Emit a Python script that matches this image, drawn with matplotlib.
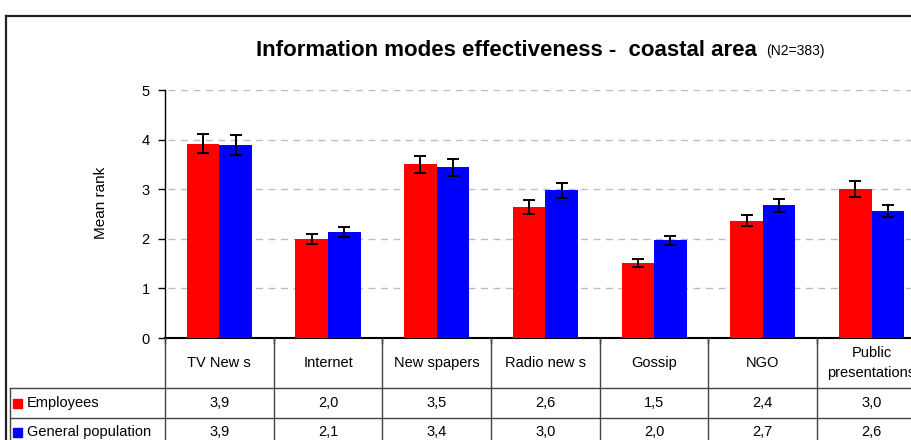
import matplotlib
matplotlib.use("Agg")
import matplotlib.pyplot as plt
from matplotlib.lines import Line2D
from matplotlib.patches import Rectangle

categories = ["TV New s", "Internet", "New spapers", "Radio new s", "Gossip", "NGO", "Public\npresentations"]
series_names = ["Employees", "General population"]
employees = [3.92, 2.00, 3.50, 2.64, 1.51, 2.36, 3.01]
employees_err = [0.20, 0.10, 0.17, 0.14, 0.08, 0.11, 0.16]
general = [3.89, 2.14, 3.44, 2.98, 1.97, 2.68, 2.56]
general_err = [0.20, 0.10, 0.17, 0.15, 0.09, 0.13, 0.13]
yticks = [0, 1, 2, 3, 4, 5]
colors = ["#ff0000", "#0000ff"]

FONT = ["Liberation Sans", "DejaVu Sans"]
plt.rcParams['font.family'] = FONT

W, H = 912, 440
fig = plt.figure(figsize=(W / 100, H / 100), dpi=100)

def fx(x):
    return x / W

def fy(y):
    return 1 - y / H

x0, x_axis_bottom, y_top = 165, 338, 90
cat_w = 108.7
n = len(categories)
ax = fig.add_axes([fx(x0), fy(x_axis_bottom), n * cat_w / W, (x_axis_bottom - y_top) / H])
ax.set_xlim(0, n)
ax.set_ylim(0, 5)

centers = [i + 0.5 for i in range(n)]
bw = 0.3
ax.bar([c - bw / 2 for c in centers], employees, width=bw, color=colors[0], zorder=3)
ax.bar([c + bw / 2 for c in centers], general, width=bw, color=colors[1], zorder=3)
ax.errorbar([c - bw / 2 for c in centers], employees, yerr=employees_err, fmt='none',
            ecolor='black', elinewidth=1.4, capsize=4.3, capthick=1.4, zorder=4)
ax.errorbar([c + bw / 2 for c in centers], general, yerr=general_err, fmt='none',
            ecolor='black', elinewidth=1.4, capsize=4.3, capthick=1.4, zorder=4)

for s in ['top', 'right']:
    ax.spines[s].set_visible(False)
ax.spines['left'].set_linewidth(1.0)
ax.spines['bottom'].set_linewidth(1.5)
ax.set_yticks(yticks)
ax.set_yticklabels([str(t) for t in yticks], fontsize=10.5)
ax.tick_params(axis='y', direction='out', length=5, width=1, pad=6)
ax.set_xticks(range(n + 1))
ax.set_xticklabels([])
ax.tick_params(axis='x', direction='out', length=4, width=1)
for t in yticks[1:]:
    ax.plot([0.03, n], [t, t], color='#bdbdbd', lw=1, dashes=(5, 4), zorder=1)

# title
fig.text(fx(757), fy(56), "Information modes effectiveness -  coastal area", ha='right',
         va='baseline', fontsize=16, fontweight='bold')
fig.text(fx(766), fy(55), "(N2=383)", ha='left', va='baseline', fontsize=10)

# y label
fig.text(fx(101), fy(203), "Mean rank", rotation=90, ha='center', va='center', fontsize=11)

# outer border
lc = '#222222'
fig.add_artist(Line2D([fx(6), fx(W + 5)], [fy(16), fy(16)], color=lc, lw=1.6))
fig.add_artist(Line2D([fx(6), fx(6)], [fy(16), fy(H + 5)], color=lc, lw=1.6))

# data table lines
tc = '#444444'
for k in range(n + 1):
    xx = x0 + k * cat_w
    fig.add_artist(Line2D([fx(xx), fx(xx)], [fy(338), fy(H + 5)], color=tc, lw=1))
for yy in (388, 418):
    fig.add_artist(Line2D([fx(10), fx(W + 5)], [fy(yy), fy(yy)], color=tc, lw=1))
fig.add_artist(Line2D([fx(10), fx(10)], [fy(388), fy(H + 5)], color=tc, lw=1))

# header
for i, c in enumerate(categories):
    xc = x0 + (i + 0.5) * cat_w
    fig.text(fx(xc), fy(363), c, ha='center', va='center', fontsize=10.5, linespacing=1.5)

# rows
rows_y = [403, 432]
for r, (name, vals) in enumerate(zip(series_names, [employees, general])):
    yc = rows_y[r]
    fig.add_artist(Rectangle((fx(13), fy(yc + 5)), 9 / W, 9 / H, color=colors[r],
                             transform=fig.transFigure))
    fig.text(fx(27), fy(yc), name, ha='left', va='center', fontsize=10.5)
    for i, v in enumerate(vals):
        xc = x0 + (i + 0.5) * cat_w
        fig.text(fx(xc), fy(yc), f"{v:.1f}".replace('.', ','), ha='center', va='center',
                 fontsize=10.5)

fig.savefig("out.png", dpi=100)
